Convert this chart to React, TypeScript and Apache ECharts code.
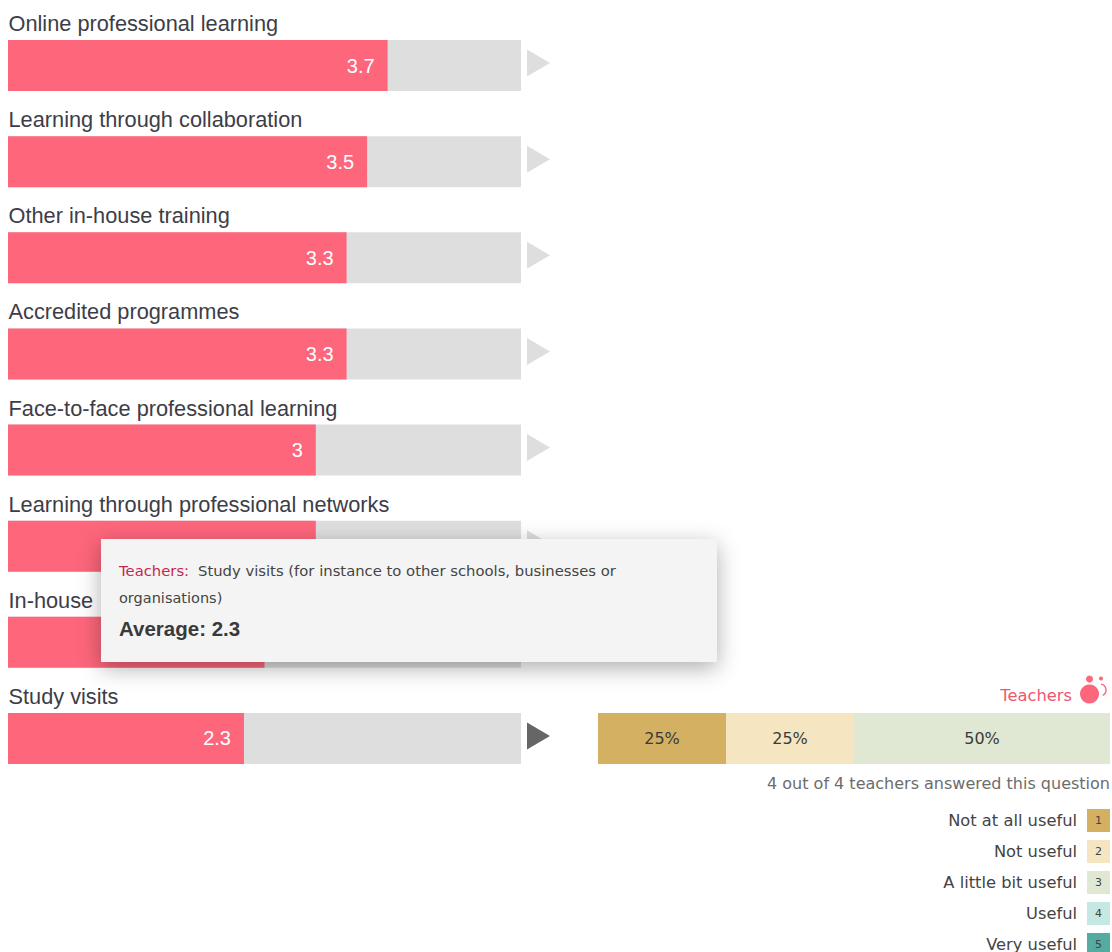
import React, { useEffect, useRef } from "react";
import * as echarts from "echarts";

const categories = [
  "Online professional learning",
  "Learning through collaboration",
  "Other in-house training",
  "Accredited programmes",
  "Face-to-face professional learning",
  "Learning through professional networks",
  "In-house",
  "Study visits",
];
const averages = [3.7, 3.5, 3.3, 3.3, 3, 3, 2.5, 2.3];
const markerValues = [1, 1, 1, 1, 1, 1, 1, 1];
const activeRow = 7;
const coveredValueRow = 6;

const shareValues = [25, 25, 50];
const scaleLabels = ["Not at all useful", "Not useful", "A little bit useful", "Useful", "Very useful"];
const scaleColors = ["#d4b063", "#f5e6c1", "#e0e8d3", "#c5e8e3", "#55ab9f"];

const PINK = "#fd667b";
const SANS = "'Liberation Sans', Arial, sans-serif";
const WIDE = "'DejaVu Sans', Verdana, sans-serif";

const rowGrid = { top: 17.5, height: 769 };

function legendGraphics() {
  const out: any[] = [];
  scaleLabels.forEach((label, i) => {
    const y = 809 + i * 31;
    out.push({
      type: "rect",
      shape: { x: 1087, y, width: 23, height: 23 },
      style: { fill: scaleColors[i] },
    });
    out.push({
      type: "text",
      x: 1098.5,
      y: y + 11.5,
      style: { text: String(i + 1), font: `11px ${WIDE}`, fill: "#444", align: "center", verticalAlign: "middle" },
    });
    out.push({
      type: "text",
      x: 1077,
      y: y + 11,
      style: { text: label, font: `16.3px ${WIDE}`, fill: "#444", align: "right", verticalAlign: "middle" },
    });
  });
  return out;
}

function teacherIcon() {
  return [
    { type: "text", x: 1072, y: 695, style: { text: "Teachers", font: `16.3px ${WIDE}`, fill: "#f0566e", align: "right", verticalAlign: "middle" } },
    { type: "circle", shape: { cx: 1089.5, cy: 694, r: 9.5 }, style: { fill: PINK } },
    { type: "circle", shape: { cx: 1089.5, cy: 679, r: 3.5 }, style: { fill: PINK } },
    { type: "circle", shape: { cx: 1101, cy: 678.5, r: 2 }, style: { fill: PINK } },
    {
      type: "arc",
      shape: { cx: 1100, cy: 690, r: 6, startAngle: -1.4, endAngle: 1.1 },
      style: { stroke: PINK, lineWidth: 1.4, fill: "none" },
    },
  ];
}

function detailBox() {
  const body = "#444";
  return {
    type: "group",
    z: 100,
    children: [
      {
        type: "rect",
        z: 100,
        shape: { x: 101, y: 539, width: 616, height: 123 },
        style: { fill: "#f4f4f4", shadowBlur: 22, shadowColor: "rgba(0,0,0,0.32)", shadowOffsetX: 0, shadowOffsetY: 6 },
      },
      { type: "text", z: 101, x: 119, y: 570, style: { text: "Teachers:", font: `14.8px ${WIDE}`, fill: "#c4284f", verticalAlign: "middle" } },
      {
        type: "text",
        z: 101,
        x: 198,
        y: 570,
        style: { text: "Study visits (for instance to other schools, businesses or", font: `14.8px ${WIDE}`, fill: body, verticalAlign: "middle" },
      },
      { type: "text", z: 101, x: 119, y: 598, style: { text: "organisations)", font: `14.5px ${WIDE}`, fill: body, verticalAlign: "middle" } },
      {
        type: "text",
        z: 101,
        x: 119,
        y: 628,
        style: { text: `Average: ${averages[activeRow]}`, font: `bold 20.5px ${SANS}`, fill: "#3a3a3a", verticalAlign: "middle" },
      },
    ],
  };
}

export default function App() {
  const ref = useRef<HTMLDivElement>(null);

  useEffect(() => {
    const chart = echarts.init(ref.current!, null, { renderer: "svg" });
    chart.setOption({
      animation: false,
      backgroundColor: "#ffffff",
      grid: [
        { left: 8, width: 513, ...rowGrid },
        { left: 527, width: 23, ...rowGrid },
        { left: 598, width: 512, top: 713, height: 51 },
      ],
      xAxis: [
        { gridIndex: 0, type: "value", min: 0, max: 5, show: false },
        { gridIndex: 1, type: "value", min: 0, max: 2, show: false },
        { gridIndex: 2, type: "value", min: 0, max: 100, show: false },
      ],
      yAxis: [
        {
          gridIndex: 0,
          type: "category",
          inverse: true,
          data: categories,
          axisLine: { show: false },
          axisTick: { show: false },
          axisLabel: { show: false },
        },
        { gridIndex: 1, type: "category", inverse: true, data: categories, show: false },
        { gridIndex: 2, type: "category", data: ["Study visits"], show: false },
      ],
      series: [
        {
          type: "bar",
          xAxisIndex: 0,
          yAxisIndex: 0,
          data: averages.map((value, i) => ({
            value,
            label: { show: i !== coveredValueRow },
          })),
          barWidth: 51,
          showBackground: true,
          backgroundStyle: { color: "#dedede" },
          itemStyle: { color: PINK },
          label: {
            show: true,
            position: "insideRight",
            distance: 13,
            color: "#ffffff",
            fontFamily: SANS,
            fontSize: 20,
          },
        },
        {
          // row titles sit above each bar, anchored to the row's zero point
          type: "scatter",
          xAxisIndex: 0,
          yAxisIndex: 0,
          symbolSize: 1,
          clip: false,
          itemStyle: { color: "rgba(0,0,0,0)", opacity: 1 },
          data: categories.map((name) => ({ name, value: [0, name] })),
          label: {
            show: true,
            formatter: "{b}",
            position: [1, -41.5],
            align: "left",
            verticalAlign: "middle",
            fontFamily: SANS,
            fontSize: 21.75,
            color: "#3d3d47",
          },
        },
        {
          type: "scatter",
          xAxisIndex: 1,
          yAxisIndex: 1,
          symbol: "triangle",
          symbolRotate: -90,
          symbolSize: [27, 23],
          symbolOffset: [0, -2.5],
          data: markerValues.map((v, i) => ({
            value: [v, categories[i]],
            itemStyle: { color: i === activeRow ? "#666666" : "#dedede", opacity: 1 },
          })),
        },
        ...shareValues.map((v, i) => ({
          type: "bar",
          xAxisIndex: 2,
          yAxisIndex: 2,
          stack: "share",
          barWidth: 51,
          data: [v],
          itemStyle: { color: scaleColors[i] },
          label: {
            show: true,
            position: "inside",
            formatter: "{c}%",
            color: "#3a3a3a",
            fontFamily: WIDE,
            fontSize: 16,
          },
        })),
      ],
      graphic: [
        ...teacherIcon(),
        {
          type: "text",
          x: 1110,
          y: 783,
          style: {
            text: "4 out of 4 teachers answered this question",
            font: `16px ${WIDE}`,
            fill: "#6c6c6c",
            align: "right",
            verticalAlign: "middle",
          },
        },
        ...legendGraphics(),
        detailBox(),
      ],
    });
    return () => chart.dispose();
  }, []);

  return <div ref={ref} style={{ position: "absolute", left: 0, top: 0, width: 1112, height: 952 }} />;
}
